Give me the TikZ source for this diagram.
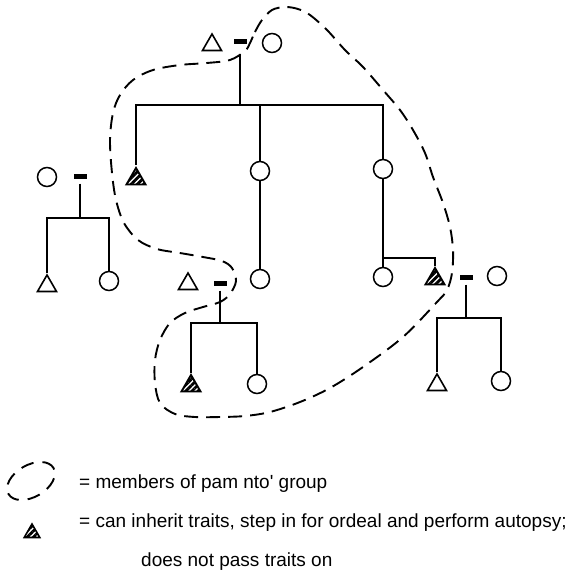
\documentclass[tikz,border=0pt]{standalone}
\usepackage{fontspec}
\setmainfont{Liberation Sans}
\usetikzlibrary{shapes.geometric,patterns.meta}
\begin{document}
\begin{tikzpicture}[x=1pt,y=-1pt,
  kin/.style={line width=1.5pt},
  fem/.style={circle,draw,line width=1.5pt,minimum size=19pt,inner sep=0pt},
  male/.style={regular polygon,regular polygon sides=3,draw,line width=1.6pt,minimum size=22pt,inner sep=0pt},
  heir/.style={male,line width=1.9pt,pattern={Lines[angle=45,distance=4.4pt,line width=2.8pt]}},
  marr/.style={rectangle,fill=black,minimum width=13pt,minimum height=5pt,inner sep=0pt},
  descent/.style={kin,shorten <=5pt},
  grp/.style={line width=1.9pt,dash pattern=on 14pt off 8pt},
  legend/.style={anchor=base west,inner sep=0pt,font=\fontsize{19}{22}\selectfont}
]
\useasboundingbox (0,0) rectangle (578,583);

% top couple
\node[male] (T1) at (212,45) {};
\node[marr] (B1) at (240,42) {};
\node[fem] (C1) at (272,43) {};
\coordinate (j1) at (240,105);
% children of top couple
\node[heir] (H1) at (136,179) {};
\node[fem] (C2) at (260,171) {};
\node[fem] (C3) at (383,169) {};
\node[fem] (C4) at (260,279) {};
\node[fem] (C5) at (383,277) {};
\node[heir] (H2) at (435,279) {};
\coordinate (j2) at (383,258);

\draw[descent,shorten <=9pt] (B1.south) -- (j1);
\draw[kin] (H1.north) -- (H1.north |- j1) -- (C3.north |- j1) -- (C3.north);
\draw[kin] (C2.north) -- (C2.north |- j1);
\draw[kin] (C2.south) -- (C4.north);
\draw[kin] (C3.south) -- (C5.north);
\draw[kin] (j2) -- (H2.north |- j2) -- (H2.north);

% right family
\node[marr] (B2) at (466,277) {};
\node[fem] (C6) at (497,276) {};
\coordinate (j3) at (466,318);
\node[male] (T2) at (437,385) {};
\node[fem] (C7) at (501,381) {};
\draw[descent] (B2.south) -- (j3);
\draw[kin] (T2.north) |- (j3) -| (C7.north);

% left family
\node[fem] (C8) at (47,177) {};
\node[marr] (B3) at (80,176) {};
\coordinate (j4) at (80,218);
\node[male] (T3) at (47,286) {};
\node[fem] (C9) at (109,281) {};
\draw[descent] (B3.south) -- (j4);
\draw[kin] (T3.north) |- (j4) -| (C9.north);

% bottom middle family
\node[male] (T4) at (188,284) {};
\node[marr] (B4) at (220,283) {};
\coordinate (j5) at (220,323);
\node[heir] (H3) at (191,386) {};
\node[fem] (C10) at (257,384) {};
\draw[descent] (B4.south) -- (j5);
\draw[kin] (H3.north) |- (j5) -| (C10.north);

% pam nto' group boundary
\draw[grp] plot[smooth cycle,tension=0.55] coordinates {
 (250,43) (255,32) (262,20) (272,10) (285,7) (298,9) (310,15) (327,30)
 (345,50) (363,67) (383,90) (400,110) (413,130) (425,153) (433,177)
 (443,203) (450,227) (453,250) (452,273) (447,290) (437,302) (403,337)
 (363,367) (330,388) (300,402) (270,412) (245,416) (220,417) (195,417)
 (175,414) (160,403) (155,383) (155,360) (160,340) (170,323) (185,313)
 (203,307) (220,302) (230,294) (236,281) (232,268) (222,261) (203,257)
 (180,253) (157,249) (138,240) (124,223) (116,200) (112,173) (110,140)
 (113,113) (120,95) (133,80) (153,70) (180,65) (207,63) (230,60) (245,51)};

% legend
\node[ellipse,draw,line width=1.9pt,dash pattern=on 13pt off 9pt,minimum width=52pt,minimum height=32pt,inner sep=0pt,rotate=30] (key1) at (31,481) {};
\node[legend] (txt1) at (79,488) {= members of pam nto\textquotesingle\ group};
\node[heir,minimum size=18pt,line width=1.6pt] (key2) at (32,533) {};
\node[legend] (txt2) at (79,527) {= can inherit traits, step in for ordeal and perform autopsy;};
\node[legend] (txt3) at (141,566) {does not pass traits on};
\end{tikzpicture}
\end{document}
